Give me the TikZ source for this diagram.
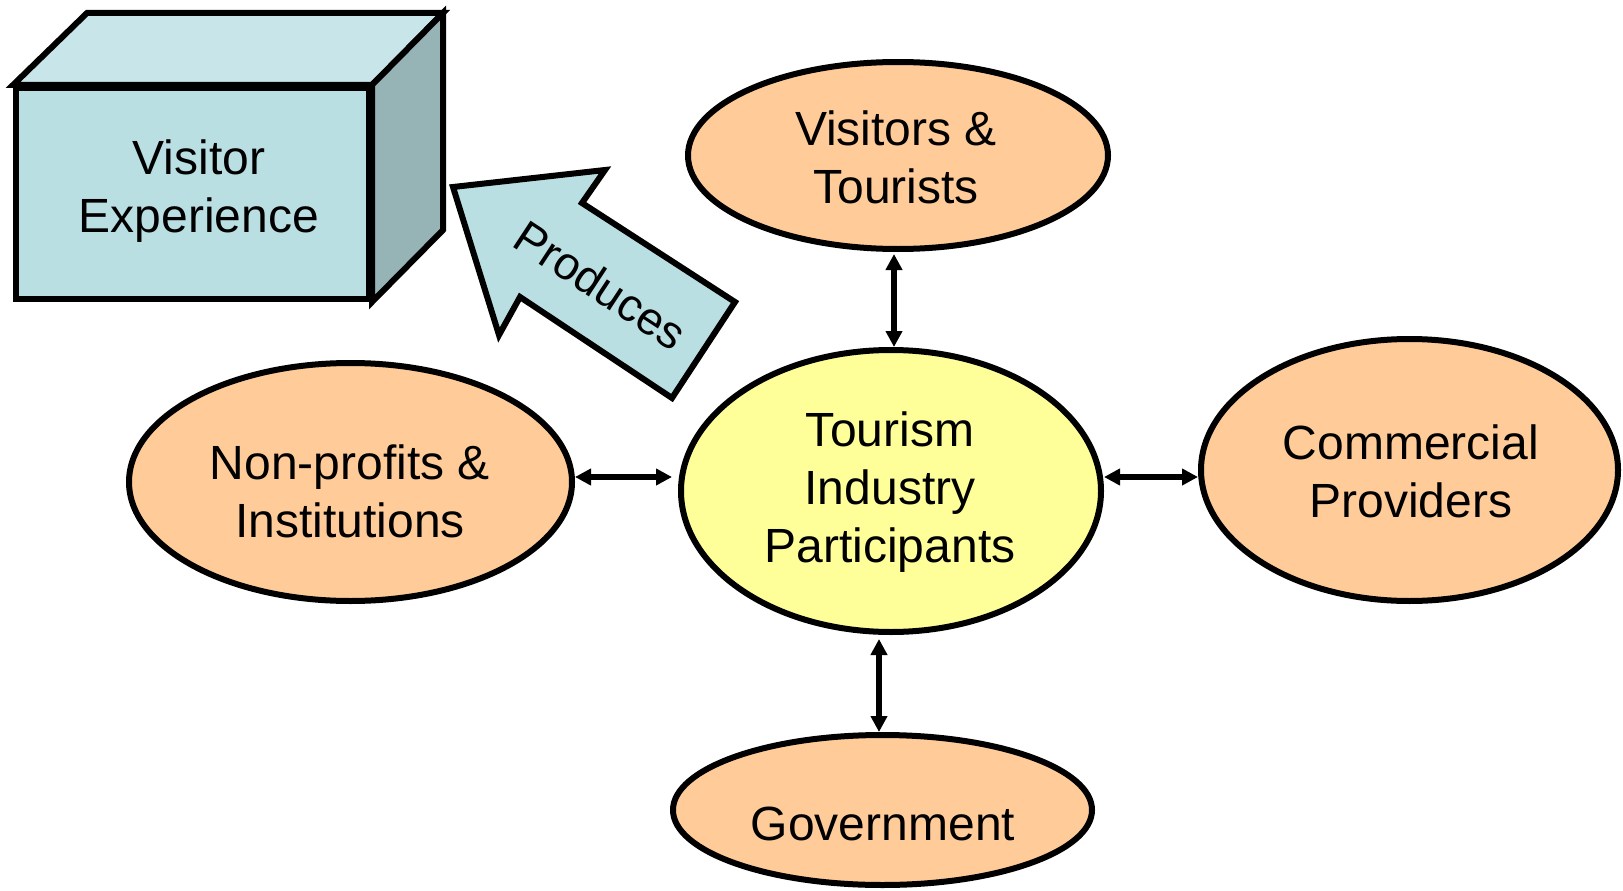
\documentclass[tikz,border=0pt]{standalone}
\usepackage{fontspec}
\setmainfont{Liberation Sans}
\usetikzlibrary{shapes.geometric,arrows.meta}
\definecolor{boxfront}{HTML}{B9DFE3}
\definecolor{boxtop}{HTML}{C8E6E9}
\definecolor{boxside}{HTML}{96B3B6}
\definecolor{peach}{HTML}{FFCC99}
\definecolor{lemon}{HTML}{FFFF99}
\tikzset{
  outline/.style={draw=black,line width=6pt,line join=miter},
  oval/.style={outline,ellipse,inner sep=0pt},
  lbl/.style={align=center,font=\fontsize{48}{58}\selectfont,inner sep=0pt},
  conn/.style={draw=black,line width=6pt,{Triangle[length=16pt,width=16pt]}-{Triangle[length=16pt,width=16pt]}}}
\begin{document}
\begin{tikzpicture}[x=1pt,y=-1pt]
\useasboundingbox (0,0) rectangle (1623,891);
% cube
\draw[outline,fill=boxtop] (13,85) -- (87,13) -- (443,13) -- (372,85) -- cycle;
\draw[outline,fill=boxside] (372,85) -- (443,13) -- (443,230) -- (372,302) -- cycle;
\node[outline,fill=boxfront,rectangle,inner sep=0pt,minimum width=353pt,minimum height=211pt] (vx) at (192.5,193.5) {};
\node[lbl] (vxt) at (199,191) {Visitor\\Experience};
% produces arrow
\draw[outline,fill=boxfront] (453,187) -- (605,170) -- (582,203) -- (735,302) -- (672,398) -- (520,297) -- (499,335) -- cycle;
\node[lbl,font=\fontsize{46}{55}\selectfont,rotate=-33.3] (prod) at (601,285) {Produces};
% ellipses
\node[oval,fill=peach,minimum width=420pt,minimum height=187pt] (vis) at (898,155.5) {};
\node[oval,fill=lemon,minimum width=420pt,minimum height=282pt] (tip) at (891,491) {};
\node[oval,fill=peach,minimum width=443pt,minimum height=238pt] (npi) at (350.5,482) {};
\node[oval,fill=peach,minimum width=417pt,minimum height=262pt] (com) at (1409.5,470) {};
\node[oval,fill=peach,minimum width=419pt,minimum height=150pt] (gov) at (882.5,810) {};
\node[lbl] (vist) at (896,157) {Visitors \&\\Tourists};
\node[lbl] (tipt) at (890,492) {Tourism\\Industry\\Participants};
\node[lbl] (npit) at (350,491) {Non-profits \&\\Institutions};
\node[lbl] (comt) at (1411,471.5) {Commercial\\Providers};
\node[lbl] (govt) at (883,824) {Government};
% connectors
\coordinate (vtx) at (894,0);
\coordinate (gbx) at (879,0);
\coordinate (hy) at (0,477);
\draw[conn,shorten <=2pt] (vis.south -| vtx) -- (tip.north -| vtx);
\draw[conn,shorten <=4pt] (tip.south -| gbx) -- (gov.north -| gbx);
\draw[conn,shorten >=6pt] (npi.east |- hy) -- (tip.west |- hy);
\draw[conn] (tip.east |- hy) -- (com.west |- hy);
\end{tikzpicture}
\end{document}
